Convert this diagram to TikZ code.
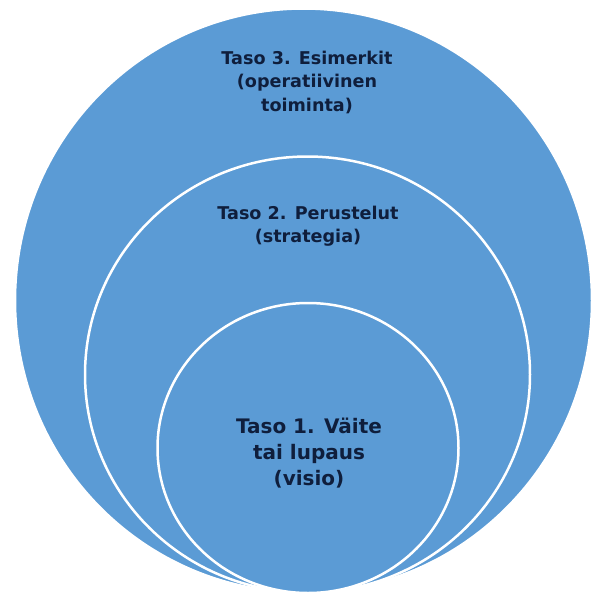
\documentclass[tikz,border=0pt]{standalone}
\usepackage{fontspec}
\setmainfont{DejaVu Sans}
\definecolor{fillblue}{HTML}{5B9BD5}
\definecolor{txtnavy}{HTML}{0F1E3C}
\begin{document}
\begin{tikzpicture}[x=1pt,y=-1pt,
  ring/.style={fill=fillblue,draw=white,line width=2.5pt},
  lbl/.style={align=center,text=txtnavy,inner sep=0pt},
  small/.style={font=\bfseries\fontsize{17.6}{23.5}\selectfont},
  big/.style={font=\bfseries\fontsize{20}{26}\selectfont}]
\useasboundingbox (0,0) rectangle (594,595);
\path[ring] (303.5,300.5) ellipse [x radius=288.5, y radius=292];
\path[ring] (307.5,374.5) ellipse [x radius=222.5, y radius=218];
\path[ring] (308,448) ellipse [x radius=150.5, y radius=145];
\node[lbl,small] (t3) at (307,82) {Taso 3. Esimerkit\\(operatiivinen\\toiminta)};
\node[lbl,small] (t2) at (308,226) {Taso 2. Perustelut\\(strategia)};
\node[lbl,big] (t1) at (309,453) {Taso 1. Väite\\tai lupaus\\(visio)};
\end{tikzpicture}
\end{document}
